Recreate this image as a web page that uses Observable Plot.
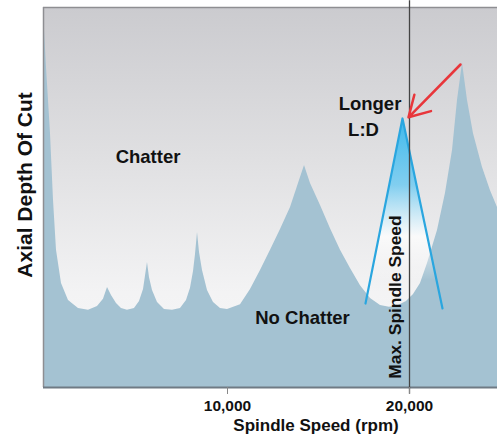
<!DOCTYPE html>
<html>
<head>
<meta charset="utf-8">
<script src="https://cdn.jsdelivr.net/npm/d3@7"></script>
<script src="https://cdn.jsdelivr.net/npm/@observablehq/plot@0.6"></script>
<style>
  html, body { margin: 0; padding: 0; background: #ffffff; }
</style>
</head>
<body>
<div id="chart"></div>
<script>
// Stability lobe boundary (spindle speed in rpm, axial depth in arbitrary units 0-100)
const lobeRpm = [-110, -55, 55, 275, 440, 604, 879, 1264, 1813, 2363, 2857, 3187, 3407, 3626, 3901, 4176, 4505, 4890, 5165, 5385, 5604, 5714, 5879, 6154, 6538, 6978, 7418, 7747, 7967, 8132, 8242, 8352, 8462, 8626, 8901, 9231, 9615, 10000, 10714, 11264, 11813, 12363, 12912, 13462, 13846, 14231, 14560, 15110, 15659, 16209, 16758, 17308, 17857, 18407, 18901, 19396, 19835, 20220, 20604, 20989, 21538, 21978, 22363, 22637, 22912, 23187, 23516, 24011, 24451, 24835];
const lobeDepth = [95.5, 93.9, 84.2, 66.8, 49.2, 36.1, 27.4, 22.9, 20.8, 20.3, 21.3, 23.2, 26.3, 24.2, 22.1, 20.8, 20.3, 20.8, 22.6, 25.8, 32.9, 28.9, 25.5, 22.4, 20.5, 20.3, 20.8, 22.9, 26.1, 30.5, 35.0, 40.8, 35.5, 30.8, 25.5, 22.4, 20.8, 20.5, 21.8, 25.8, 30.8, 36.1, 41.6, 47.4, 52.9, 58.4, 53.7, 47.9, 41.8, 36.1, 31.3, 26.8, 23.4, 21.6, 21.1, 21.6, 22.6, 24.5, 27.4, 32.6, 41.3, 51.1, 62.4, 75.5, 85.3, 75.5, 66.8, 57.9, 51.8, 47.4];

// "Longer L:D" lobe (triangle)
const longRpm = [17582, 19615, 21813];
const longDepth = [22.1, 70.8, 20.8];

// Max spindle speed marker
const maxSpindleSpeed = 20000;

// Red arrow (from, to)
const arrowRpm = [22802, 19945];
const arrowDepth = [85.0, 71.1];

// Axis ticks and labels
const xTicks = [10000, 20000];
const xDomain = [-110, 24835];
const yDomain = [0, 100];
const xTitle = "Spindle Speed (rpm)";
const yTitle = "Axial Depth Of Cut";

// Annotation labels
const noteText = ["Chatter", "No Chatter", "Longer", "L:D"];
const noteRpm = [5632, 14121, 17830, 17473];
const noteDepth = [59.2, 16.8, 72.9, 66.3];
const maxLabel = "Max. Spindle Speed";
const maxLabelRpm = 19560;
const maxLabelDepth = 23.8;

const lobe = lobeRpm.map((x, i) => ({x, y: lobeDepth[i]}));
const longLobe = longRpm.map((x, i) => ({x, y: longDepth[i]}));
const notes = noteText.map((t, i) => ({t, x: noteRpm[i], y: noteDepth[i]}));

const font = "'Liberation Sans', Arial, Helvetica, sans-serif";

const defs = () => {
  const d = d3.create("svg:defs");
  const bg = d.append("linearGradient").attr("id", "bgGrad")
    .attr("x1", 0).attr("y1", 0).attr("x2", 0).attr("y2", 1);
  bg.append("stop").attr("offset", "0%").attr("stop-color", "#cbcbcf");
  bg.append("stop").attr("offset", "40%").attr("stop-color", "#e0e0e2");
  bg.append("stop").attr("offset", "75%").attr("stop-color", "#f3f3f4");
  bg.append("stop").attr("offset", "100%").attr("stop-color", "#f8f8f8");
  const tri = d.append("linearGradient").attr("id", "triGrad")
    .attr("x1", 0).attr("y1", 0).attr("x2", 0).attr("y2", 1);
  tri.append("stop").attr("offset", "0%").attr("stop-color", "#3fb9ec").attr("stop-opacity", 1);
  tri.append("stop").attr("offset", "35%").attr("stop-color", "#7ccdf0").attr("stop-opacity", 0.95);
  tri.append("stop").attr("offset", "62%").attr("stop-color", "#ffffff").attr("stop-opacity", 0.75);
  tri.append("stop").attr("offset", "85%").attr("stop-color", "#ffffff").attr("stop-opacity", 0);
  tri.append("stop").attr("offset", "100%").attr("stop-color", "#ffffff").attr("stop-opacity", 0);
  return d.node();
};

const chart = Plot.plot({
  width: 497,
  height: 435,
  marginLeft: 43,
  marginRight: 0,
  marginTop: 7,
  marginBottom: 48,
  style: {fontFamily: font, fontWeight: "bold", color: "#111", background: "#ffffff"},
  x: {domain: xDomain},
  y: {domain: yDomain, axis: null},
  marks: [
    defs,
    Plot.frame({fill: "url(#bgGrad)", stroke: "none"}),
    Plot.areaY(lobe, {x: "x", y: "y", fill: "#a4c2d2", curve: "linear"}),
    Plot.line(longLobe, {x: "x", y: "y", fill: "url(#triGrad)", stroke: "#2aa6df", strokeWidth: 2.2, curve: "linear"}),
    Plot.ruleY([yDomain[1]], {stroke: "#8e8e92", strokeWidth: 1.5}),
    Plot.ruleX([xDomain[0]], {stroke: "#8e8e92", strokeWidth: 1.5}),
    Plot.ruleY([yDomain[0]], {stroke: "#6f7a84", strokeWidth: 2}),
    Plot.ruleX([maxSpindleSpeed], {y1: -1.8, y2: 101.8, stroke: "#444", strokeWidth: 1.3}),
    Plot.arrow([0], {x1: () => arrowRpm[0], y1: () => arrowDepth[0], x2: () => arrowRpm[1], y2: () => arrowDepth[1],
      stroke: "#e8363b", strokeWidth: 2.5, headLength: 14, bend: 0}),
    Plot.text(notes, {x: "x", y: "y", text: "t", fontSize: 18.5, fontWeight: "bold", fill: "#111", lineAnchor: "bottom", textAnchor: "middle"}),
    Plot.text([maxLabel], {x: maxLabelRpm, y: maxLabelDepth, rotate: -90, fontSize: 17.4, fontWeight: "bold", fill: "#111", lineAnchor: "bottom", textAnchor: "middle"}),
    Plot.axisX({ticks: xTicks, tickFormat: d3.format(","), tickSize: 7, tickPadding: 5, fontSize: 15.5, fontWeight: "bold", stroke: "#888", label: null}),
    Plot.text([xTitle], {frameAnchor: "bottom", x: 14863, dy: 43, fontSize: 17, fontWeight: "bold", fill: "#111", lineAnchor: "bottom", textAnchor: "middle"}),
    Plot.text([yTitle], {frameAnchor: "left", y: 53.3, dx: -12, rotate: -90, fontSize: 21, fontWeight: "bold", fill: "#111", lineAnchor: "bottom", textAnchor: "middle"})
  ]
});
document.getElementById("chart").appendChild(chart);
</script>
</body>
</html>
